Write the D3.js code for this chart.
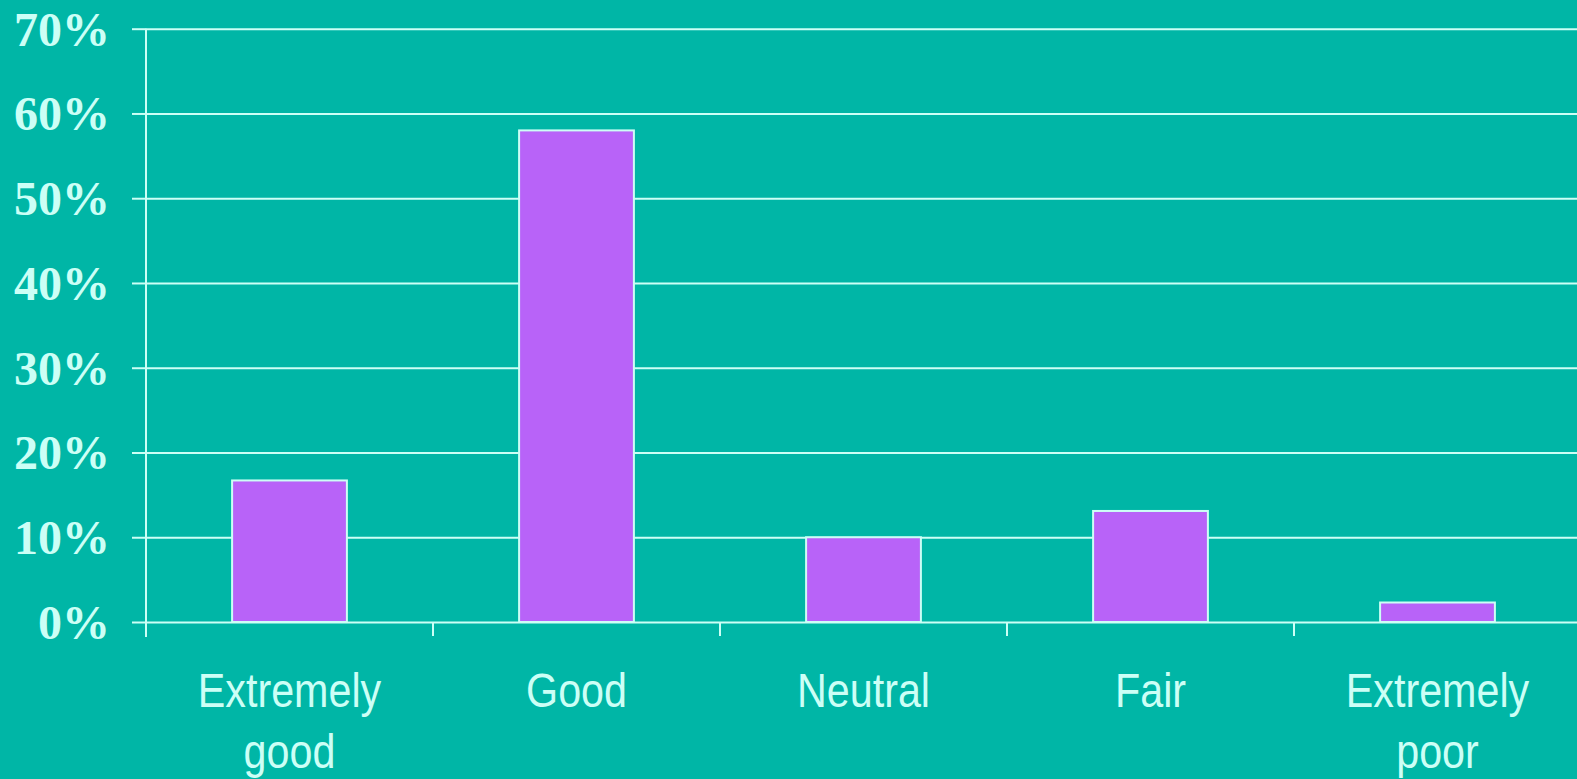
<!DOCTYPE html>
<html><head><meta charset="utf-8">
<script src="https://cdn.jsdelivr.net/npm/d3@7"></script>
<style>
html,body{margin:0;padding:0;background:#00B6A6;overflow:hidden;}
svg{display:block;}
</style></head>
<body>
<svg id="chart" width="1577" height="779"></svg>
<script>
const categories = [["Extremely","good"],["Good"],["Neutral"],["Fair"],["Extremely","poor"]];
const values = [0.167, 0.58, 0.10, 0.131, 0.023];
const yTicks = [0,0.1,0.2,0.3,0.4,0.5,0.6,0.7];

const W = 1577, H = 779;
const bg = "#00B6A6", fg = "#CCFFF6", barFill = "#B863F8";
const svg = d3.select("#chart");
svg.append("rect").attr("width",W).attr("height",H).attr("fill",bg);

const x0 = 146, step = 287;
const keys = categories.map(c=>c.join(" "));
const x = d3.scaleBand().domain(keys).range([x0, x0 + step*keys.length]).paddingInner(0.6).paddingOuter(0.3);
const y = d3.scaleLinear().domain([0,0.7]).range([622, 28.7]);

// gridlines + left ticks
const yAxis = d3.axisLeft(y).tickValues(yTicks).tickSize(14).tickFormat(d3.format(".0%")).tickPadding(22);
const gy = svg.append("g").attr("transform",`translate(${x0},0)`).call(yAxis);
gy.select(".domain").remove();
gy.selectAll(".tick line").attr("stroke",fg).attr("stroke-width",2);
gy.selectAll(".tick text").attr("fill",fg)
  .style("font-family","'Liberation Serif','Times New Roman',serif")
  .style("font-weight","bold").style("font-size","48px").attr("dy","0.34em");
gy.selectAll(".tick").append("line").attr("x1",0).attr("x2",W).attr("stroke",fg).attr("stroke-width",2);

// y axis line
svg.append("line").attr("x1",x0).attr("x2",x0).attr("y1",y(0.7)).attr("y2",637).attr("stroke",fg).attr("stroke-width",2);

// x ticks at band boundaries
const bounds = d3.range(keys.length+1).map(i=>x0+i*step);
svg.selectAll(".xt").data(bounds.slice(1)).join("line")
  .attr("x1",d=>d).attr("x2",d=>d).attr("y1",y(0)).attr("y2",636).attr("stroke",fg).attr("stroke-width",2);

// bars
svg.selectAll(".bar").data(values).join("rect")
  .attr("x",(d,i)=>x(keys[i])).attr("width",x.bandwidth())
  .attr("y",d=>y(d)).attr("height",d=>y(0)-y(d))
  .attr("fill",barFill).attr("stroke",fg).attr("stroke-width",2);

// x labels (condensed via horizontal scale)
const lab = svg.selectAll(".xl").data(categories).join("text")
  .attr("transform",(d,i)=>`translate(${x(keys[i])+x.bandwidth()/2},707) scale(0.86,1)`)
  .attr("text-anchor","middle").attr("fill",fg)
  .style("font-family","'Liberation Sans',Arial,sans-serif")
  .style("font-size","48px");
lab.each(function(d){
  const t = d3.select(this);
  d.forEach((s,j)=>{
    t.append("tspan").attr("x",0).attr("dy", j===0?0:61).text(s);
  });
});
</script>
</body></html>
